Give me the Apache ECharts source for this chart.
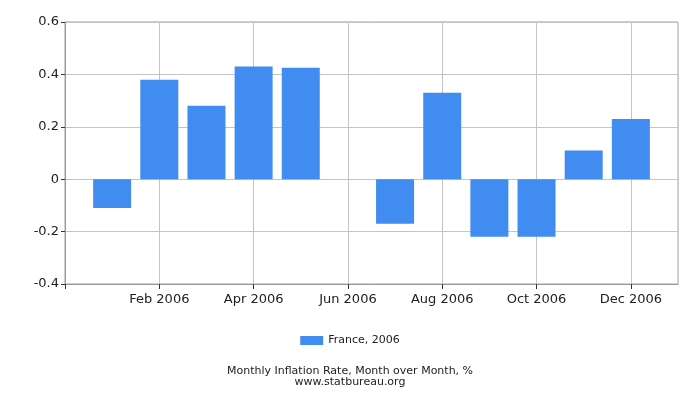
<!DOCTYPE html>
<html>
<head>
    <meta charset="utf-8">
    <title>Monthly Inflation Rate, France 2006</title>
    <script src="https://cdn.jsdelivr.net/npm/echarts@6/dist/echarts.min.js"></script>
</head>
<body style="margin:0px;background-color:#ffffff;">
    <div id="main" style="width: 700px;height:400px;"></div>
    <script type="text/javascript">
        // month labels, index 1..12 = Jan..Dec 2006
        var months = ['', 'Jan 2006', 'Feb 2006', 'Mar 2006', 'Apr 2006', 'May 2006', 'Jun 2006',
                      'Jul 2006', 'Aug 2006', 'Sep 2006', 'Oct 2006', 'Nov 2006', 'Dec 2006', ''];
        var franceValues = [-0.11, 0.38, 0.28, 0.43, 0.425, 0, -0.17, 0.33, -0.22, -0.22, 0.11, 0.23];
        var seriesName = 'France, 2006';
        var xTickValues = [0, 2, 4, 6, 8, 10, 12];

        var barData = [];
        for (var i = 0; i < franceValues.length; i++) {
            barData.push([i + 1, franceValues[i]]);
        }

        var myChart = echarts.init(document.getElementById('main'));
        var font = 'DejaVu Sans';

        var option = {
            animation: false,
            grid: {
                left: 65, right: 22, top: 22, bottom: 116,
                show: true, borderColor: '#a0a0a0', borderWidth: 1
            },
            title: {
                text: 'Monthly Inflation Rate, Month over Month, %\nwww.statbureau.org',
                left: 'center',
                top: 361,
                textStyle: { fontFamily: font, fontSize: 11, fontWeight: 'normal', color: '#222', lineHeight: 11 }
            },
            legend: {
                data: [seriesName],
                top: 330,
                left: 'center',
                itemWidth: 23,
                itemHeight: 9,
                itemGap: 4,
                icon: 'rect',
                textStyle: { fontFamily: font, fontSize: 11, color: '#222' }
            },
            xAxis: {
                type: 'value',
                min: 0,
                max: 13,
                interval: 2,
                axisLine: { show: true, onZero: false, lineStyle: { color: '#999' } },
                axisTick: { show: true, length: 5, customValues: xTickValues, lineStyle: { color: '#333' } },
                axisLabel: {
                    fontFamily: font, fontSize: 13, color: '#222', margin: 9,
                    formatter: function (v) { return months[v] || ''; }
                },
                splitLine: { show: true, lineStyle: { color: '#c4c4c4' } }
            },
            yAxis: {
                type: 'value',
                min: -0.4,
                max: 0.6,
                interval: 0.2,
                axisLine: { show: true, onZero: false, lineStyle: { color: '#999' } },
                axisTick: { show: true, length: 4, lineStyle: { color: '#333' } },
                axisLabel: {
                    fontFamily: font, fontSize: 13, color: '#222', margin: 6,
                    formatter: function (v) { return v === 0 ? '0' : v.toFixed(1); }
                },
                splitLine: { show: true, lineStyle: { color: '#c4c4c4' } }
            },
            series: [{
                name: seriesName,
                type: 'bar',
                barWidth: 38,
                itemStyle: { color: '#418cf0' },
                data: barData
            }]
        };
        myChart.setOption(option);
    </script>
</body>
</html>
